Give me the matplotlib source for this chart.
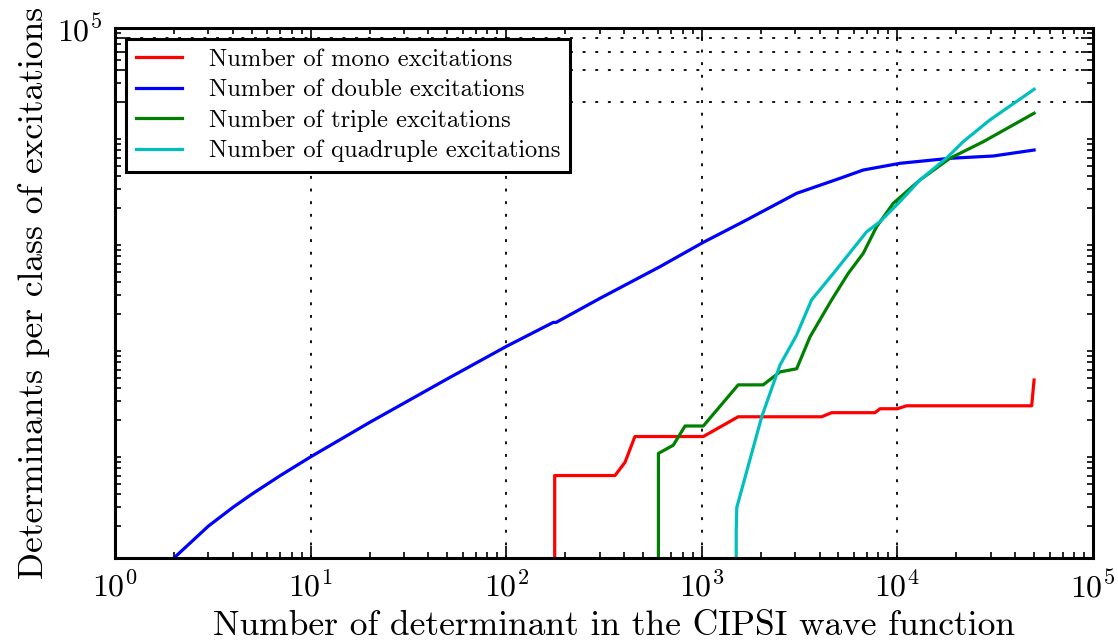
import numpy as np
import matplotlib
matplotlib.use("Agg")
import matplotlib.pyplot as plt
from matplotlib import ticker

plt.rcParams['font.family'] = 'serif'
plt.rcParams['font.serif'] = ['cmr10']
plt.rcParams['mathtext.fontset'] = 'cm'
plt.rcParams['axes.formatter.use_mathtext'] = True

# values (x: number of determinants, y: count)
mono_n = [173, 177, 360, 405, 455, 1018, 1535, 4100, 4610, 7680, 8150, 10000, 11150, 48600, 50000]
mono_v = [0, 6, 6, 8, 14, 14, 21.5, 21.5, 23.5, 23.5, 25.6, 25.6, 27.3, 27.3, 47.8]

double_n = [2, 3, 4, 5, 7, 10, 20, 50, 100, 174, 180, 302, 611, 1018, 1630, 3055,
            5090, 6695, 10300, 18570, 30900, 50000]
double_v = [1, 2, 3, 4, 6, 9, 19, 49, 99, 167, 167, 282, 560, 951, 1489, 2757,
            3820, 4575, 5290, 5900, 6200, 7060]

triple_n = [598, 600, 715, 821, 1018, 1535, 2060, 2510, 3055, 3575, 4610, 5610,
            6695, 7830, 9530, 13030, 18570, 27500, 50000]
triple_v = [0, 9.7, 11.6, 17.6, 17.6, 43, 43, 57, 61, 122, 272, 485,
            750, 1335, 2220, 3680, 5900, 8460, 15700]

quad_n = [1495, 1500, 1510, 2025, 2510, 3055, 3640, 4710, 6970, 8150, 10300,
          13030, 17800, 21700, 29700, 50000]
quad_v = [0, 1.84, 3, 21.5, 66, 127, 272, 485, 1197, 1489, 2300,
          3680, 5900, 8460, 13550, 26400]

labels = ['Number of mono excitations', 'Number of double excitations',
          'Number of triple excitations', 'Number of quadruple excitations']

fig = plt.figure(figsize=(11.18, 6.42), dpi=100)
ax = fig.add_axes([0.1029, 0.1308, 0.8747, 0.8256])

ax.plot(mono_n, mono_v, color='r', lw=2.3, label=labels[0])
ax.plot(double_n, double_v, color='b', lw=2.3, label=labels[1])
ax.plot(triple_n, triple_v, color='g', lw=2.3, label=labels[2])
ax.plot(quad_n, quad_v, color='c', lw=2.3, label=labels[3])

ax.set_xscale('log')
ax.set_yscale('log')
ax.set_xlim(1, 1e5)
ax.set_ylim(1, 1e5)

ax.xaxis.set_major_locator(ticker.LogLocator(base=10, numticks=10))
ax.xaxis.set_minor_locator(ticker.LogLocator(base=10, subs=np.arange(2, 10), numticks=50))
ax.xaxis.set_minor_formatter(ticker.NullFormatter())
ax.yaxis.set_major_locator(ticker.MultipleLocator(20000))
ax.yaxis.set_major_formatter(ticker.LogFormatterMathtext(labelOnlyBase=True))
ax.yaxis.set_minor_locator(ticker.LogLocator(base=10, subs=np.arange(2, 10), numticks=50))
ax.yaxis.set_minor_formatter(ticker.NullFormatter())

ax.grid(True, which='major', color='k', linestyle=(0, (1.6, 5.4)), linewidth=1.3)

ax.tick_params(which='both', direction='in', top=True, right=True, width=1.2)
ax.tick_params(which='major', length=9, labelsize=23, pad=9)
ax.tick_params(which='minor', length=4.5)
for s in ax.spines.values():
    s.set_linewidth(2.2)

ax.set_xlabel('Number of determinant in the CIPSI wave function', fontsize=25.5)
ax.xaxis.set_label_coords(0.51, -0.098)
ax.set_ylabel('Determinants per class of excitations', fontsize=25.5, labelpad=5)

leg = ax.legend(loc='upper left', fontsize=17.6, fancybox=False, framealpha=1,
                handlelength=1.9, handletextpad=1.1, labelspacing=0.33,
                borderaxespad=0.45, borderpad=0.4)
leg.get_frame().set_edgecolor('k')
leg.get_frame().set_linewidth(2.2)

fig.savefig('out.png', dpi=100)
